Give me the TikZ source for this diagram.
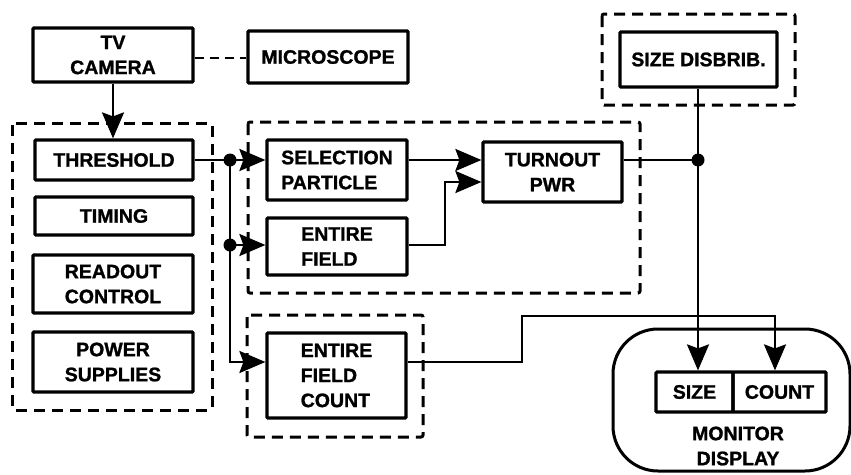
\documentclass[tikz,border=0pt]{standalone}
\usepackage{fontspec}
\setmainfont{Liberation Sans}[BoldFeatures={FakeBold=1.2}]
\usetikzlibrary{arrows.meta,calc}
\begin{document}
\begin{tikzpicture}[x=1pt,y=-1pt,
  every node/.style={font=\bfseries\fontsize{19.5}{25}\selectfont, inner sep=0pt},
  box/.style={draw, line width=3.2pt, rectangle, rounded corners=1pt},
  grp/.style={draw, line width=3pt, dash pattern=on 11pt off 7pt, rounded corners=2pt},
  conn/.style={line width=2.4pt},
  arr/.style={conn, -{Stealth[length=26pt,width=22pt,inset=4pt]}},
  dot/.style={circle, fill, minimum size=13pt, inner sep=0pt}]
\useasboundingbox (0,0) rectangle (851,474);
% groups
\draw[grp] (12,123) rectangle (212,410);
\draw[grp] (248,122) rectangle (640,293);
\draw[grp] (247,315) rectangle (423,437);
\draw[grp] (602,14) rectangle (795,105);
% boxes
\node[box, minimum width=160pt, minimum height=54pt, align=center] (cam) at (113,55) {TV\\CAMERA};
\node[box, minimum width=160pt, minimum height=52pt] (mic) at (328,57) {MICROSCOPE};
\node[box, minimum width=158pt, minimum height=40pt] (thr) at (114,160) {THRESHOLD};
\node[box, minimum width=158pt, minimum height=38pt] (tim) at (114,216) {TIMING};
\node[box, minimum width=160pt, minimum height=58pt, align=center] (rdo) at (113,284) {READOUT\\CONTROL};
\node[box, minimum width=160pt, minimum height=60pt, align=center] (pow) at (113,362) {POWER\\SUPPLIES};
\node[box, minimum width=140pt, minimum height=60pt, align=left] (sel) at (337,170) {SELECTION\\PARTICLE};
\node[box, minimum width=140pt, minimum height=57pt, align=left] (ent) at (337,246.5) {ENTIRE\\FIELD};
\node[box, minimum width=139pt, minimum height=60pt, align=center] (tpw) at (552.5,172) {TURNOUT\\PWR};
\node[box, minimum width=139pt, minimum height=85pt, align=left] (efc) at (336.5,375.5) {ENTIRE\\FIELD\\COUNT};
\node[box, minimum width=157pt, minimum height=55pt] (sd) at (698.5,59.5) {SIZE DISBRIB.};
\node[draw, line width=3pt, rounded corners=45pt, minimum width=237pt, minimum height=142pt] (mon) at (731.5,400) {};
\node[box, minimum width=77pt, minimum height=40pt] (size) at (694.5,392) {SIZE};
\node[box, minimum width=93pt, minimum height=40pt] (count) at (779.5,392) {COUNT};
\node[align=center] (montxt) at (738,446) {MONITOR\\DISPLAY};
% coordinates
\coordinate (j1) at (230,160);
\coordinate (j2) at (230,245);
\coordinate (c3) at (230,362);
\coordinate (j3) at (698,160);
\coordinate (e1) at (445,245);
\coordinate (e2) at (445,182);
\coordinate (f1) at (522,362);
\coordinate (f2) at (522,316);
\coordinate (f3) at (775,316);
% connectors
\draw[arr] (cam.south) -- (cam.south |- thr.north);
\draw[conn, line width=2.6pt, dash pattern=on 9pt off 6pt] (cam.east |- 0,58) -- (mic.west |- 0,58);
\draw[arr] (thr.east |- j1) -- (j1 -| sel.west);
\draw[conn] (j1) -- (j2);
\draw[arr] (j2) -- (j2 -| ent.west);
\draw[arr] (j2) -- (c3) -- (c3 -| efc.west);
\draw[arr] (sel.east |- j1) -- (j1 -| tpw.west);
\draw[arr] (ent.east |- e1) -- (e1) -- (e2) -- (e2 -| tpw.west);
\draw[conn] (tpw.east |- j3) -- (j3);
\draw[conn] (sd.south -| j3) -- (j3);
\draw[arr] (j3) -- (j3 |- size.north);
\draw[arr] (efc.east |- f1) -- (f1) -- (f2) -- (f3) -- (f3 |- count.north);
\node[dot] at (j1) {};
\node[dot] at (j2) {};
\node[dot] at (j3) {};
\end{tikzpicture}
\end{document}
